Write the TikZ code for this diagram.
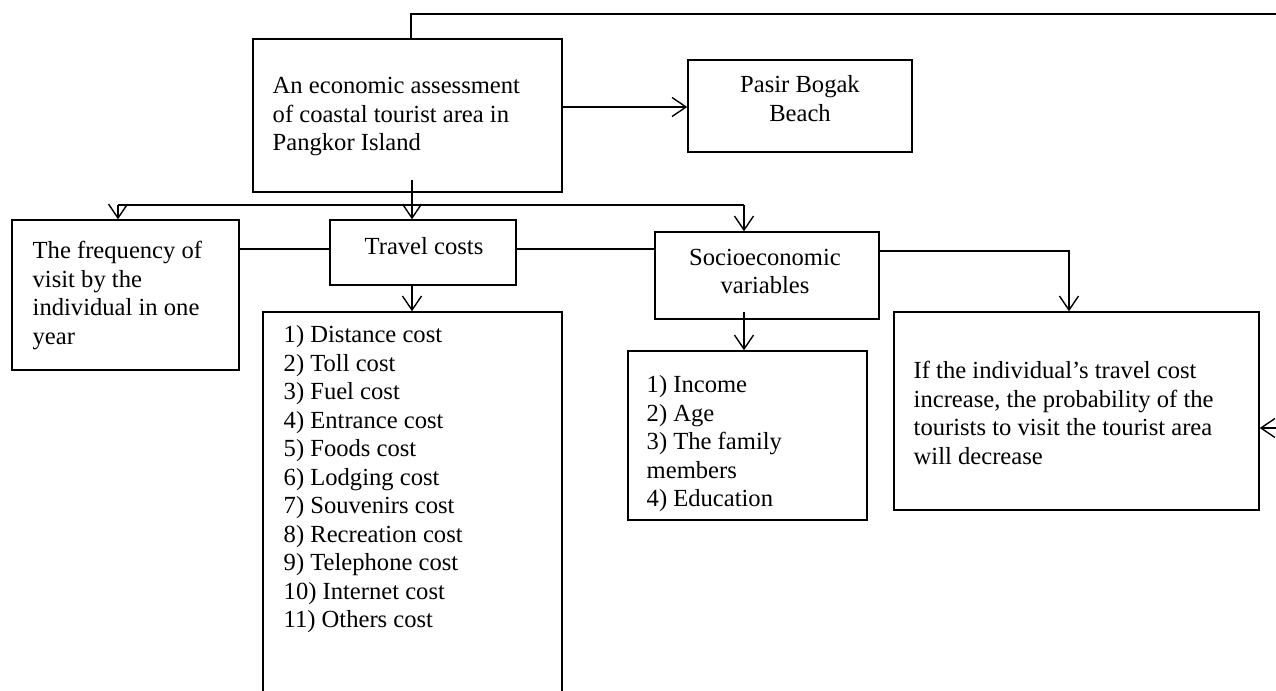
\documentclass[tikz,border=0pt]{standalone}
\usepackage{fontspec}
\setmainfont{Liberation Serif}
\usetikzlibrary{arrows.meta,calc}
\begin{document}
\begin{tikzpicture}[x=0.5pt,y=-0.5pt,
  line width=0.7pt,
  box/.style={draw, rectangle, inner sep=0pt, line width=0.7pt},
  txt/.style={inner sep=0pt, font=\fontsize{12.3}{14.25}\selectfont},
  arr/.style={-{Straight Barb[length=7pt,width=9.5pt,line width=0.7pt]}}]
\useasboundingbox (0,0) rectangle (1276,691);
\clip (0,0) rectangle (1276,691);

% boxes
\node[box, minimum width=154.5pt, minimum height=76.5pt] (main) at (407.5,115.5) {};
\node[box, minimum width=112pt, minimum height=46pt] (pasir) at (800,106) {};
\node[box, minimum width=113.5pt, minimum height=75pt] (freq) at (125.5,295) {};
\node[box, minimum width=93pt, minimum height=32.5pt] (travel) at (423,252.5) {};
\node[box, minimum width=112pt, minimum height=43.5pt] (socio) at (767,275.5) {};
\node[box, minimum width=149.5pt, minimum height=204pt] (list) at (412.5,516) {};
\node[box, minimum width=119.5pt, minimum height=84.5pt] (slist) at (747.5,435.5) {};
\node[box, minimum width=182.5pt, minimum height=99pt] (result) at (1076.5,411) {};

% texts
\node[txt, align=left, anchor=west] (maintxt) at (272,116.7)
  {An economic assessment\\of coastal tourist area in\\Pangkor Island};
\node[txt, align=center] (pasirtxt) at (800,98.5) {Pasir Bogak\\Beach};
\node[txt, align=left, anchor=west] (freqtxt) at (32,295.5)
  {The frequency of\\visit by the\\individual in one\\year};
\node[txt] (traveltxt) at (424,246) {Travel costs};
\node[txt, align=center] (sociotxt) at (765,271.5) {Socioeconomic\\variables};
\node[txt, align=left, anchor=west] (listtxt) at (283,479.5)
  {1) Distance cost\\2) Toll cost\\3) Fuel cost\\4) Entrance cost\\5) Foods cost\\6) Lodging cost\\7) Souvenirs cost\\8) Recreation cost\\9) Telephone cost\\10) Internet cost\\11) Others cost};
\node[txt, align=left, anchor=west] (slisttxt) at (646,444)
  {1) Income\\2) Age\\3) The family\\members\\4) Education};
\node[txt, align=left, anchor=west] (resulttxt) at (913,413)
  {If the individual’s travel cost\\increase, the probability of the\\tourists to visit the tourist area\\will decrease};

% coordinates
\coordinate (topin) at (1276,14);
\coordinate (topknee) at (411,14);
\coordinate (jm) at (412,205);
\coordinate (jl) at (118,205);
\coordinate (jr) at (744,205);
\coordinate (ylink) at (0,249);
\coordinate (sb) at (744,312);
\coordinate (sk) at (1069,251);
\coordinate (rin) at (1276,428);
\coordinate (mainout) at (412,180);
\coordinate (pasirline) at (0,107);

% connectors
\draw (topin) -- (topknee) -- (topknee |- main.north);
\draw[arr] (main.east |- pasirline) -- (pasir.west |- pasirline);
\draw (mainout) -- (jm);
\draw (jl) -- (jr);
\draw[arr] (jl) -- (jl |- freq.north);
\draw[arr] (jm) -- (jm |- travel.north);
\draw[arr] (jr) -- (jr |- socio.north);
\draw (freq.east |- ylink) -- (travel.west |- ylink);
\draw (travel.east |- ylink) -- (socio.west |- ylink);
\draw[arr] (jm |- travel.south) -- (jm |- list.north);
\draw[arr] (sb) -- (sb |- slist.north);
\draw[arr] (socio.east |- sk) -- (sk) -- (sk |- result.north);
\draw[arr] (rin) -- (rin -| result.east);
\end{tikzpicture}
\end{document}
